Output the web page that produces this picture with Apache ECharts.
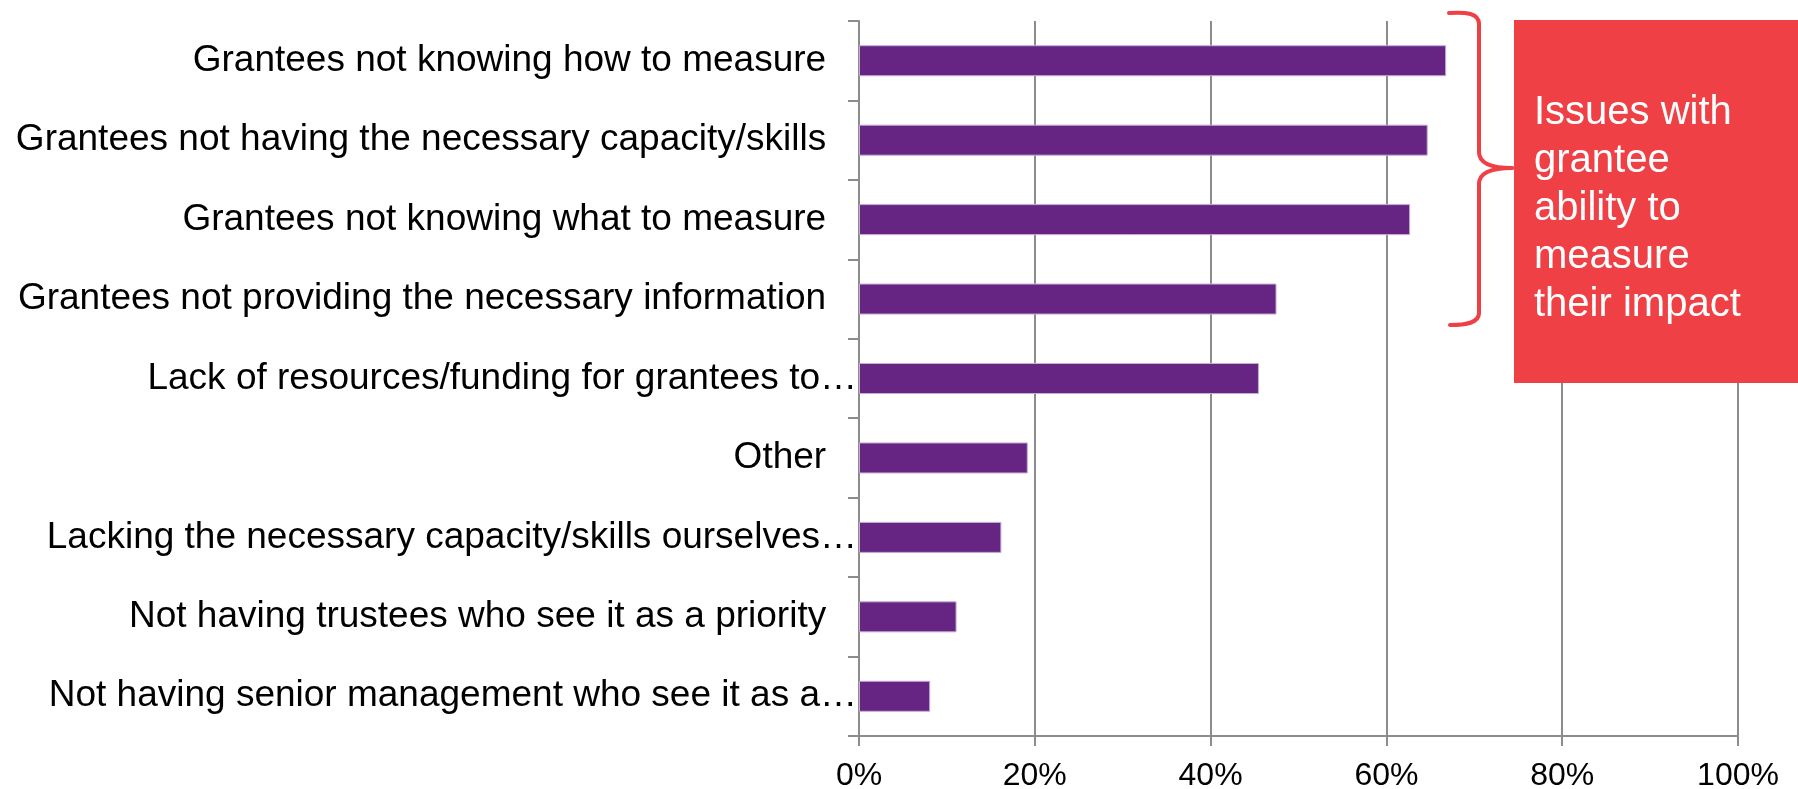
<!DOCTYPE html>
<html>
<head>
<meta charset="utf-8">
<script src="https://cdn.jsdelivr.net/npm/echarts@6/dist/echarts.min.js"></script>
<style>
html,body{margin:0;padding:0;background:#fff;}
#chart{width:1798px;height:789px;}
</style>
</head>
<body>
<div id="chart"></div>
<script>
const categories = [
  'Grantees not knowing how to measure',
  'Grantees not having the necessary capacity/skills',
  'Grantees not knowing what to measure',
  'Grantees not providing the necessary information',
  'Lack of resources/funding for grantees to…',
  'Other',
  'Lacking the necessary capacity/skills ourselves…',
  'Not having trustees who see it as a priority',
  'Not having senior management who see it as a…'
];
const values = [66.8, 64.7, 62.7, 47.5, 45.5, 19.2, 16.2, 11.1, 8.1];
const xTicks = { min: 0, max: 100, interval: 20 };
const calloutLines = ['Issues with', 'grantee', 'ability to', 'measure', 'their impact'];

const FONT = 'Liberation Sans, Arial, sans-serif';
const GRAY = '#8c8c8c';
const RED = '#ee4045';
const braceStyle = { fill: null, stroke: RED, lineWidth: 4, lineCap: 'round' };

function curve(x1, y1, c1x, c1y, c2x, c2y, x2, y2) {
  return { type: 'bezierCurve', z: 100,
    shape: { x1: x1, y1: y1, cpx1: c1x, cpy1: c1y, cpx2: c2x, cpy2: c2y, x2: x2, y2: y2 },
    style: braceStyle };
}
function seg(x1, y1, x2, y2) {
  return { type: 'line', z: 100, shape: { x1: x1, y1: y1, x2: x2, y2: y2 }, style: braceStyle };
}

const chart = echarts.init(document.getElementById('chart'));
chart.setOption({
  animation: false,
  grid: { left: 859, right: 60, top: 21, bottom: 53, containLabel: false, outerBoundsMode: 'none' },
  xAxis: {
    type: 'value',
    min: xTicks.min, max: xTicks.max, interval: xTicks.interval,
    axisLine: { show: true, lineStyle: { color: GRAY, width: 2 } },
    axisTick: { show: true, length: 10, lineStyle: { color: GRAY, width: 2 } },
    splitLine: { show: true, lineStyle: { color: GRAY, width: 2 } },
    axisLabel: { formatter: '{value}%', color: '#000', fontFamily: FONT, fontSize: 32, margin: 24 }
  },
  yAxis: {
    type: 'category',
    inverse: true,
    data: categories,
    axisLine: { show: true, lineStyle: { color: GRAY, width: 2 } },
    axisTick: { show: true, length: 11, lineStyle: { color: GRAY, width: 2 } },
    axisLabel: {
      color: '#000', fontFamily: FONT, fontSize: 37, margin: 2,
      formatter: v => v.endsWith('…') ? v : v + '\u00a0\u00a0\u00a0'
    }
  },
  series: [{
    type: 'bar',
    data: values,
    barWidth: 31,
    itemStyle: { color: '#662583', borderColor: '#c3aed2', borderWidth: 1 }
  }],
  graphic: [
    curve(1449, 13, 1466, 12, 1479, 13, 1479, 24),
    seg(1479, 24, 1479, 152),
    curve(1479, 152, 1479, 162, 1490, 168, 1512, 168),
    curve(1512, 168, 1490, 168, 1479, 174, 1479, 184),
    seg(1479, 184, 1479, 313),
    curve(1479, 313, 1479, 323, 1466, 325, 1450, 325),
    {
      type: 'rect', z: 100,
      shape: { x: 1514, y: 20, width: 290, height: 363 },
      style: { fill: RED }
    },
    {
      type: 'text', z: 101, x: 1534, y: 89,
      style: {
        text: calloutLines.join('\n'),
        fill: '#fff', font: '40px ' + FONT, lineHeight: 48,
        verticalAlign: 'top'
      }
    }
  ]
});
</script>
</body>
</html>
